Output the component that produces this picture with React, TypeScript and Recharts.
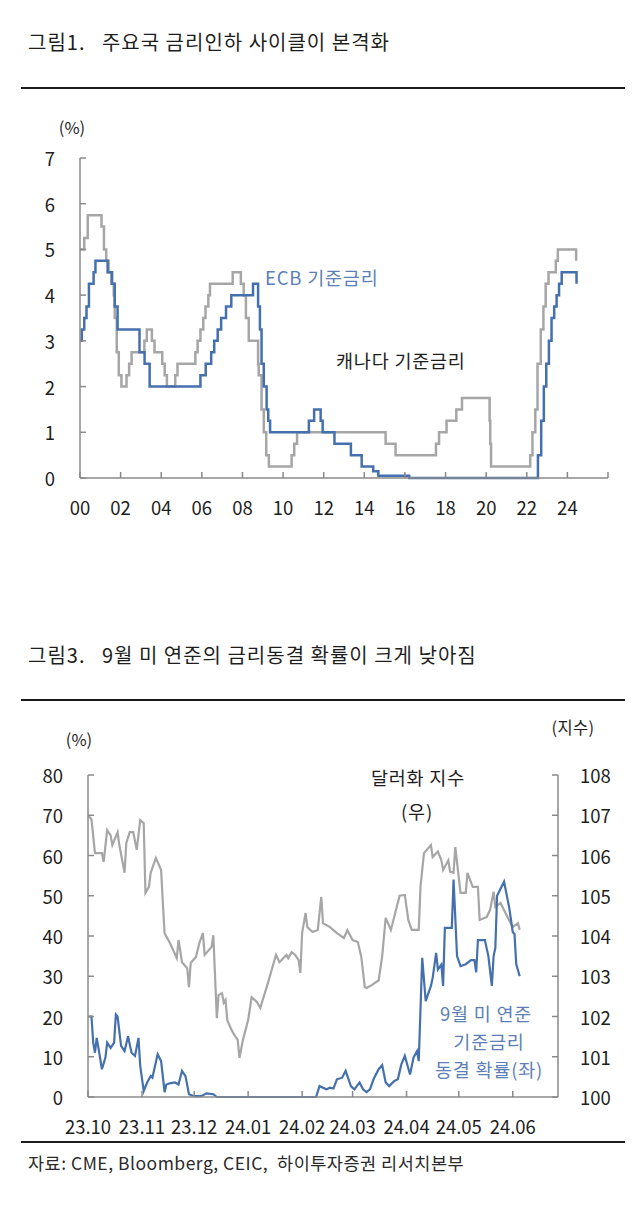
import React from 'react';
import { LineChart, Line, XAxis, YAxis } from 'recharts';

const FONT = '"Noto Sans CJK KR", "Noto Sans", sans-serif';
const TEXT = '#1e1e1e';
const BLUE = '#4570AE';
const BLUE_LABEL = '#5B7FB6';
const GRAY = '#A6A6A6';
const AXIS = '#8A8A8A';

// 그림1: ECB / 캐나다 기준금리 (변경 시점, 연도 소수)
const ecbDates = [
  2000.0, 2000.09, 2000.21, 2000.32, 2000.44, 2000.67, 2000.76, 2001.36, 2001.58, 2001.71,
  2001.85, 2002.93, 2003.18, 2003.43, 2005.93, 2006.19, 2006.46, 2006.61, 2006.78, 2006.95,
  2007.19, 2007.45, 2008.52, 2008.77, 2008.86, 2008.94, 2009.05, 2009.19, 2009.27, 2009.36,
  2011.27, 2011.53, 2011.85, 2011.95, 2012.53, 2013.34, 2013.87, 2014.44, 2014.69, 2016.21,
  2022.55, 2022.71, 2022.84, 2022.96, 2023.09, 2023.22, 2023.35, 2023.47, 2023.59, 2023.72,
  2024.45,
];
const ecbRates = [
  3.0, 3.25, 3.5, 3.75, 4.25, 4.5, 4.75, 4.5, 4.25, 3.75,
  3.25, 2.75, 2.5, 2.0, 2.25, 2.5, 2.75, 3.0, 3.25, 3.5,
  3.75, 4.0, 4.25, 3.75, 3.25, 2.5, 2.0, 1.5, 1.25, 1.0,
  1.25, 1.5, 1.25, 1.0, 0.75, 0.5, 0.25, 0.15, 0.05, 0.0,
  0.5, 1.25, 2.0, 2.5, 3.0, 3.5, 3.75, 4.0, 4.25, 4.5,
  4.25,
];
const canDates = [
  2000.0, 2000.21, 2000.38, 2001.06, 2001.18, 2001.29, 2001.41, 2001.54, 2001.66, 2001.71,
  2001.81, 2001.91, 2002.04, 2002.29, 2002.42, 2002.54, 2003.17, 2003.29, 2003.54, 2003.67,
  2004.05, 2004.17, 2004.28, 2004.69, 2004.8, 2005.68, 2005.79, 2005.93, 2006.07, 2006.18,
  2006.32, 2006.4, 2007.52, 2007.92, 2008.06, 2008.17, 2008.31, 2008.77, 2008.8, 2008.94,
  2009.05, 2009.17, 2009.3, 2010.42, 2010.55, 2010.69, 2015.05, 2015.54, 2017.53, 2017.68,
  2018.05, 2018.53, 2018.81, 2020.17, 2020.2, 2020.24, 2022.17, 2022.28, 2022.42, 2022.53,
  2022.69, 2022.82, 2022.93, 2023.07, 2023.43, 2023.53, 2024.43,
];
const canRates = [
  5.0, 5.25, 5.75, 5.5, 5.0, 4.75, 4.5, 4.25, 4.0, 3.5,
  2.75, 2.25, 2.0, 2.25, 2.5, 2.75, 3.0, 3.25, 3.0, 2.75,
  2.5, 2.25, 2.0, 2.25, 2.5, 2.75, 3.0, 3.25, 3.5, 3.75,
  4.0, 4.25, 4.5, 4.25, 4.0, 3.5, 3.0, 2.5, 2.25, 1.5,
  1.0, 0.5, 0.25, 0.5, 0.75, 1.0, 0.75, 0.5, 0.75, 1.0,
  1.25, 1.5, 1.75, 1.25, 0.75, 0.25, 0.5, 1.0, 1.5, 2.5,
  3.25, 3.75, 4.25, 4.5, 4.75, 5.0, 4.75,
];
const yearTicks = [2000, 2002, 2004, 2006, 2008, 2010, 2012, 2014, 2016, 2018, 2020, 2022, 2024, 2026];
const yearLabels = ['00', '02', '04', '06', '08', '10', '12', '14', '16', '18', '20', '22', '24', ''];
const rateTicks = [0, 1, 2, 3, 4, 5, 6, 7];

// 그림3: 9월 FOMC 동결 확률(좌, %) / 달러화 지수(우) — 2023.10.01 이후 경과일
const fedDays = [
  0, 2, 3, 4, 5, 6, 8, 10, 11, 13, 15, 16, 17, 19, 21, 23, 25, 27, 29, 30,
  32, 34, 36, 37, 40, 42, 44, 45, 47, 50, 52, 54, 56, 58, 61, 65, 68, 72, 74, 100,
  131, 133, 137, 139, 141, 143, 146, 148, 150, 151, 153, 156, 158, 160, 162, 164, 167, 169, 171, 173,
  176, 178, 180, 182, 185, 187, 189, 190, 192, 194, 197, 198, 200, 201, 203, 204, 205, 209, 210, 212,
  214, 217, 220, 222, 223, 224, 228, 230, 232, 233, 234, 235, 239, 242, 244, 245, 246, 248,
];
const fedHold = [
  20, 20, 13.5, 11, 14.7, 12.2, 6.9, 9.8, 13.5, 12.2, 13.5, 20.5, 20, 12.7, 11.4, 15.1, 11, 10.2, 14.7, 7.7,
  1.5, 3.6, 5.2, 4.8, 10.6, 8.9, 1.2, 3.1, 3.4, 3.6, 3.1, 6.5, 5.2, 0.7, 0.2, 0.2, 0.9, 0.7, 0, 0,
  0, 2.7, 1.9, 2.3, 2.1, 4.4, 4.8, 6.5, 4, 2.7, 1.9, 3.6, 1.9, 1.2, 1.9, 4.4, 6.9, 7.9, 3.6, 2.7,
  4, 4.4, 8.1, 10.2, 5.6, 9.8, 11.4, 8.9, 34.6, 23.8, 27.6, 29.6, 35.8, 31.7, 32.9, 27.6, 42, 42, 54, 35,
  32.5, 33, 34, 34, 31, 39, 39, 35, 27.6, 35, 37, 50, 53.5, 47, 41, 40.5, 33, 30,
];
const dxyDays = [
  0, 2, 4, 8, 9, 11, 13, 14, 17, 18, 21, 22, 24, 26, 28, 30, 32, 33, 35, 36,
  39, 42, 43, 44, 47, 51, 52, 54, 57, 58, 59, 62, 64, 66, 67, 71, 72, 74, 75, 77,
  78, 79, 80, 82, 84, 86, 87, 89, 92, 94, 97, 99, 100, 103, 106, 108, 110, 114, 115, 117,
  119, 121, 122, 123, 125, 126, 129, 132, 134, 135, 139, 143, 147, 149, 152, 155, 157, 159, 160, 163,
  167, 169, 171, 174, 179, 182, 184, 186, 190, 191, 193, 197, 198, 201, 203, 204, 207, 208, 210, 211,
  214, 217, 218, 221, 224, 225, 229, 231, 233, 234, 237, 241, 244, 247, 248,
];
const dxy = [
  107.0, 106.9, 106.06, 106.06, 105.84, 106.63, 106.5, 106.26, 106.58, 106.26, 105.57, 106.31, 106.58, 106.58, 106.14, 106.88, 106.8, 105.07, 105.22, 105.57,
  105.94, 105.64, 104.82, 104.07, 103.83, 103.45, 103.9, 103.35, 103.2, 102.73, 103.33, 103.48, 103.83, 104.07, 103.53, 103.73, 104.02, 101.96, 102.53, 102.58,
  102.34, 102.41, 101.91, 101.71, 101.54, 101.42, 100.97, 101.42, 101.91, 102.48, 102.36, 102.21, 102.36, 102.78, 103.23, 103.53, 103.35, 103.53, 103.45, 103.6,
  103.53, 103.4, 103.08, 104.07, 104.57, 104.22, 104.1, 104.15, 104.97, 104.32, 104.22, 104.07, 103.95, 104.15, 103.9, 103.85, 103.48, 102.73, 102.71, 102.78,
  102.9, 103.5, 104.45, 104.15, 105.0, 105.02, 104.4, 104.15, 104.15, 105.22, 106.06, 106.26, 105.96, 106.1, 105.88, 105.64, 105.88, 105.6, 105.57, 106.21,
  105.07, 105.07, 105.57, 105.22, 105.22, 104.4, 104.47, 104.65, 105.1, 104.72, 104.82, 104.47, 104.22, 104.32, 104.15,
];
const monthTicks = [0, 31, 61, 92, 123, 152, 183, 213, 244];
const monthLabels = ['23.10', '23.11', '23.12', '24.01', '24.02', '24.03', '24.04', '24.05', '24.06'];
const pctTicks = [0, 10, 20, 30, 40, 50, 60, 70, 80];
const idxTicks = [100, 101, 102, 103, 104, 105, 106, 107, 108];

const toRows = (xs: number[], ys: number[]) => xs.map((x, i) => ({ x, y: ys[i] }));

const TICK_FONT = 18.5;

const BottomTick = (props: any) => {
  const { x, y, payload, ticks, labels } = props;
  const label = labels[ticks.indexOf(payload.value)];
  return (
    <g>
      <line x1={x} y1={y} x2={x} y2={y - 6} stroke={AXIS} strokeWidth={1.5} />
      <text x={x} y={y + 29} textAnchor="middle" dominantBaseline="central" fontSize={TICK_FONT} fontFamily={FONT} fill={TEXT}>
        {label}
      </text>
    </g>
  );
};

const SideTick = (props: any) => {
  const { x, y, payload, side } = props;
  const dir = side === 'left' ? 1 : -1;
  return (
    <g>
      <line x1={x} y1={y} x2={x + dir * 6} y2={y} stroke={AXIS} strokeWidth={1.5} />
      <text
        x={side === 'left' ? x - 25 : x + 22}
        y={y}
        textAnchor={side === 'left' ? 'end' : 'start'}
        dominantBaseline="central"
        fontSize={TICK_FONT}
        fontFamily={FONT}
        fill={TEXT}
      >
        {payload.value}
      </text>
    </g>
  );
};

const Txt = ({ x, y, size = 18.5, color = TEXT, anchor = 'start', spacing = 0.8, children }: any) => {
  const w = 460;
  const left = anchor === 'start' ? x : anchor === 'middle' ? x - w / 2 : x - w;
  return (
    <div
      style={{
        position: 'absolute',
        left,
        top: y - size * 0.7,
        width: w,
        height: size * 1.4,
        lineHeight: `${size * 1.4}px`,
        fontSize: size,
        letterSpacing: spacing,
        color,
        textAlign: anchor === 'start' ? 'left' : anchor === 'middle' ? 'center' : 'right',
        whiteSpace: 'pre',
      }}
    >
      {children}
    </div>
  );
};

const Rule = ({ y }: { y: number }) => (
  <div style={{ position: 'absolute', left: 21, top: y - 1, width: 604, height: 2, background: '#1a1a1a' }} />
);

const axisLine = { stroke: AXIS, strokeWidth: 1.5 };

export default function App() {
  const ecb = toRows(ecbDates, ecbRates);
  const can = toRows(canDates, canRates);
  const fed = toRows(fedDays, fedHold);
  const idx = toRows(dxyDays, dxy);

  return (
    <div style={{ position: 'absolute', left: 0, top: 0, width: 640, height: 1215, background: '#fff', fontFamily: FONT, overflow: 'hidden' }}>
      <Txt x={28} y={42} size={20} spacing={1.0}>{'그림1.   주요국 금리인하 사이클이 본격화'}</Txt>
      <Rule y={88} />
      <Txt x={72} y={128} size={16.5} spacing={0} anchor="middle">(%)</Txt>

      <div style={{ position: 'absolute', left: 0, top: 100 }}>
        <LineChart width={640} height={430} margin={{ top: 58, right: 32, left: 0, bottom: 22 }}>
          <XAxis
            dataKey="x"
            type="number"
            domain={[2000, 2026]}
            ticks={yearTicks}
            interval={0}
            height={30}
            tickSize={0}
            tickMargin={0}
            axisLine={axisLine}
            tickLine={false}
            tick={(p: any) => <BottomTick {...p} ticks={yearTicks} labels={yearLabels} />}
          />
          <YAxis
            type="number"
            domain={[0, 7]}
            ticks={rateTicks}
            interval={0}
            width={80}
            tickSize={0}
            tickMargin={0}
            axisLine={axisLine}
            tickLine={false}
            tick={(p: any) => <SideTick {...p} side="left" />}
          />
          <Line data={can} dataKey="y" type="stepAfter" stroke={GRAY} strokeWidth={2.5} dot={false} isAnimationActive={false} />
          <Line data={ecb} dataKey="y" type="stepAfter" stroke={BLUE} strokeWidth={2.5} dot={false} isAnimationActive={false} />
        </LineChart>
      </div>

      <Txt x={265} y={278} color={BLUE_LABEL}>ECB 기준금리</Txt>
      <Txt x={336} y={361}>캐나다 기준금리</Txt>

      <Txt x={28} y={655} size={20} spacing={1.0}>{'그림3.   9월 미 연준의 금리동결 확률이 크게 낮아짐'}</Txt>
      <Rule y={700} />
      <Txt x={79} y={740} size={16.5} spacing={0} anchor="middle">(%)</Txt>
      <Txt x={573} y={728} size={16.5} spacing={0.4} anchor="middle">(지수)</Txt>

      <div style={{ position: 'absolute', left: 0, top: 700 }}>
        <LineChart width={640} height={460} margin={{ top: 75, right: 0, left: 0, bottom: 33 }}>
          <XAxis
            dataKey="x"
            type="number"
            domain={[0, 270]}
            ticks={monthTicks}
            interval={0}
            height={30}
            tickSize={0}
            tickMargin={0}
            axisLine={axisLine}
            tickLine={false}
            tick={(p: any) => <BottomTick {...p} ticks={monthTicks} labels={monthLabels} />}
          />
          <YAxis
            yAxisId="left"
            type="number"
            domain={[0, 80]}
            ticks={pctTicks}
            interval={0}
            width={88}
            tickSize={0}
            tickMargin={0}
            axisLine={axisLine}
            tickLine={false}
            tick={(p: any) => <SideTick {...p} side="left" />}
          />
          <YAxis
            yAxisId="right"
            orientation="right"
            type="number"
            domain={[100, 108]}
            ticks={idxTicks}
            interval={0}
            width={82}
            tickSize={0}
            tickMargin={0}
            axisLine={axisLine}
            tickLine={false}
            tick={(p: any) => <SideTick {...p} side="right" />}
          />
          <Line yAxisId="right" data={idx} dataKey="y" type="linear" stroke={GRAY} strokeWidth={2.2} dot={false} isAnimationActive={false} />
          <Line yAxisId="left" data={fed} dataKey="y" type="linear" stroke={BLUE} strokeWidth={2.2} dot={false} isAnimationActive={false} />
        </LineChart>
      </div>

      <Txt x={418} y={778} anchor="middle">달러화 지수</Txt>
      <Txt x={417} y={812} anchor="middle">(우)</Txt>
      <Txt x={486} y={1014} color={BLUE_LABEL} anchor="middle">9월 미 연준</Txt>
      <Txt x={489} y={1042} color={BLUE_LABEL} anchor="middle">기준금리</Txt>
      <Txt x={489} y={1070} color={BLUE_LABEL} anchor="middle">동결 확률(좌)</Txt>

      <Rule y={1142} />
      <Txt x={28} y={1163} size={17.5} spacing={0.5} color="#2a2a2a">{'자료: CME, Bloomberg, CEIC,  하이투자증권 리서치본부'}</Txt>
    </div>
  );
}
